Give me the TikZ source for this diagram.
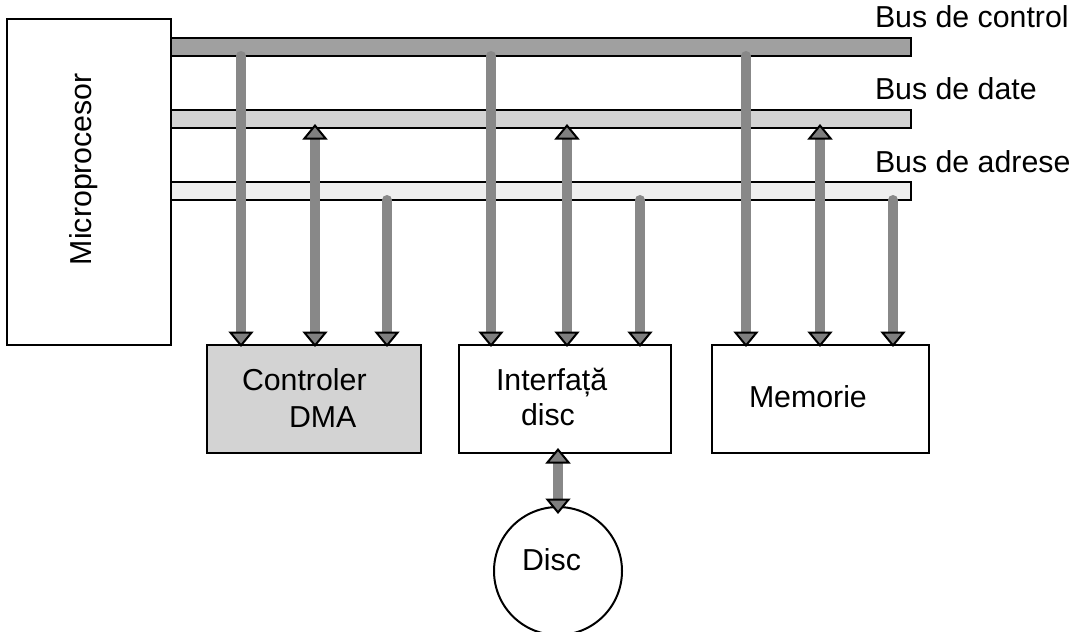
\documentclass[tikz,border=0pt]{standalone}
\usepackage{fontspec}
\setmainfont{Liberation Sans}
\usetikzlibrary{arrows.meta,calc}

\definecolor{ctlfill}{HTML}{A0A0A0}
\definecolor{datfill}{HTML}{D3D3D3}
\definecolor{adrfill}{HTML}{EFEFEF}
\definecolor{dmafill}{HTML}{D3D3D3}
\definecolor{wiregray}{HTML}{888888}
\definecolor{tipgray}{HTML}{7F7F7F}

\tikzset{
  block/.style={draw=black, line width=2pt, rectangle, inner sep=0pt, outer sep=0pt},
  busbar/.style={draw=black, line width=2pt, rectangle, inner sep=0pt, outer sep=0pt,
    minimum width=740pt, minimum height=18pt, anchor=north west},
  lbl/.style={inner sep=0pt, outer sep=0pt, anchor=base west,
    font=\fontsize{30.3}{36}\selectfont},
  gtip/.tip={Triangle[width=25pt, length=15.5pt, line width=2pt, fill=tipgray, color=black]},
  wire/.style={draw=wiregray, line width=10pt, line cap=round},
  onedir/.style={wire, -gtip},
  twodir/.style={wire, gtip-gtip, line cap=butt},
}

\begin{document}
\begin{tikzpicture}[x=1pt, y=-1pt]
  \useasboundingbox (0,0) rectangle (1074,632);

  % processor
  \node[block, minimum width=164pt, minimum height=326pt, anchor=north west] (cpu) at (7,19) {};
  \node[lbl, rotate=90] (cpulbl) at (91,265) {Microprocesor};

  % system buses
  \node[busbar, fill=ctlfill] (ctl) at (171,38) {};
  \node[busbar, fill=datfill] (dat) at (171,110) {};
  \node[busbar, fill=adrfill] (adr) at (171,182) {};
  \node[lbl] (ctllbl) at (875,27) {Bus de control};
  \node[lbl] (datlbl) at (875,99) {Bus de date};
  \node[lbl] (adrlbl) at (875,172) {Bus de adrese};

  % attached units
  \node[block, fill=dmafill, minimum width=214pt, minimum height=108pt, anchor=north west] (dma) at (207,345) {};
  \node[block, minimum width=212pt, minimum height=108pt, anchor=north west] (itf) at (459,345) {};
  \node[block, minimum width=217pt, minimum height=108pt, anchor=north west] (mem) at (712,345) {};
  \node[block, circle, minimum size=128pt] (dsk) at (558,571) {};

  \node[lbl] (dmal1) at (242,390) {Controler};
  \node[lbl] (dmal2) at (289,427) {DMA};
  \node[lbl] (itfl1) at (496,390) {Interfață};
  \node[lbl] (itfl2) at (521,425) {disc};
  \node[lbl] (meml) at (749,407) {Memorie};
  \node[lbl] (dskl) at (522,570) {Disc};

  % bus tap columns
  \foreach \n/\x in {a1/241, a2/315, a3/387, b1/491, b2/567, b3/640, c1/746, c2/820, c3/893}
    \coordinate (\n) at (\x,0);

  % bus connections
  \foreach \u/\p in {dma/a, itf/b, mem/c} {
    \draw[onedir] (ctl.south -| \p1) -- ($(\u.north -| \p1)+(0,2)$);
    \draw[twodir] ($(\u.north -| \p2)+(0,2)$) -- ($(dat.south -| \p2)+(0,-4)$);
    \draw[onedir] (adr.south -| \p3) -- ($(\u.north -| \p3)+(0,2)$);
  }

  % disc link
  \draw[twodir] ($(itf.south -| dsk.north)+(0,-5)$) -- ($(dsk.north)+(0,7)$);
\end{tikzpicture}
\end{document}
